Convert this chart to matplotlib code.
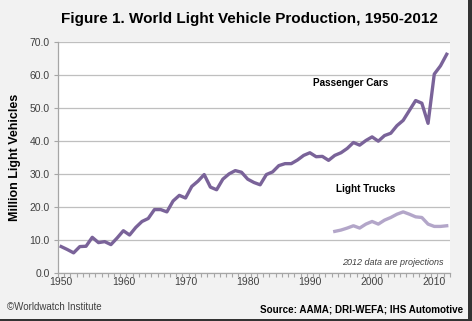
import numpy as np
import matplotlib
matplotlib.use("Agg")
import matplotlib.pyplot as plt
from matplotlib.patches import Rectangle
from matplotlib.ticker import MultipleLocator, FixedLocator, FormatStrFormatter

plt.rcParams['font.family'] = ['Liberation Sans', 'DejaVu Sans']

# million units per year
car_years = list(range(1950, 2013))
passenger_cars = [8.0, 7.1, 6.1, 8.0, 8.1, 10.8, 9.2, 9.5, 8.6, 10.6,
                  12.8, 11.5, 13.8, 15.6, 16.5, 19.2, 19.2, 18.5, 21.8, 23.5,
                  22.7, 26.2, 27.8, 29.8, 26.0, 25.2, 28.4, 30.0, 31.0, 30.5,
                  28.4, 27.4, 26.7, 29.8, 30.6, 32.5, 33.1, 33.1, 34.2, 35.6,
                  36.4, 35.2, 35.3, 34.1, 35.6, 36.4, 37.7, 39.5, 38.7, 40.1,
                  41.2, 39.9, 41.6, 42.3, 44.6, 46.2, 49.2, 52.2, 51.4, 45.3,
                  60.2, 62.7, 66.2]
truck_years = list(range(1994, 2013))
light_trucks = [12.6, 13.0, 13.6, 14.3, 13.6, 14.8, 15.6, 14.8, 16.0, 16.8,
                17.8, 18.5, 17.8, 17.0, 16.8, 14.8, 14.1, 14.1, 14.3]

fig = plt.figure(figsize=(4.72, 3.21), dpi=100, facecolor='#f2f2f2')
ax = fig.add_axes([0.123, 0.1495, 0.830, 0.7205])
ax.set_facecolor('white')

ax.plot(car_years, passenger_cars, color='#7a6399', lw=2.4, solid_joinstyle='round')
ax.plot(truck_years, light_trucks, color='#b3a6c9', lw=2.4, solid_joinstyle='round')

ax.set_xlim(1949.5, 2012.5)
ax.set_ylim(0, 70)
ax.yaxis.set_major_locator(MultipleLocator(10))
ax.yaxis.set_major_formatter(FormatStrFormatter('%.1f'))
ax.xaxis.set_major_locator(FixedLocator(range(1950, 2011, 10)))
ax.xaxis.set_minor_locator(FixedLocator(np.arange(1949.5, 2013, 1)))
ax.grid(axis='y', color='#bfbfbf', lw=0.9)
ax.set_axisbelow(True)

for s in ['top', 'right']:
    ax.spines[s].set_visible(False)
for s in ['left', 'bottom']:
    ax.spines[s].set_color('#a6a6a6')
    ax.spines[s].set_linewidth(0.9)
ax.tick_params(axis='x', which='major', length=0, labelsize=7.5, pad=3)
ax.tick_params(axis='x', which='minor', length=3, color='#a6a6a6', width=0.8)
ax.tick_params(axis='y', length=3, color='#a6a6a6', labelsize=7.5, pad=3)
for lab in ax.get_xticklabels() + ax.get_yticklabels():
    lab.set_color('#404040')

ax.set_ylabel('Million Light Vehicles', fontsize=9, fontweight='bold', labelpad=6)

ax.text(1996.5, 57.5, 'Passenger Cars', fontsize=7.2, fontweight='bold', ha='center', va='center')
ax.text(1999.0, 25.3, 'Light Trucks', fontsize=7.2, fontweight='bold', ha='center', va='center')
ax.text(2011.5, 3.3, '2012 data are projections', fontsize=6.5, style='italic',
        ha='right', va='center', color='#404040')

fig.text(0.528, 0.940, 'Figure 1. World Light Vehicle Production, 1950-2012',
         fontsize=11, fontweight='bold', ha='center', va='center')
fig.text(0.015, 0.043, '\u00a9Worldwatch Institute', fontsize=7, ha='left', va='center',
         color='#404040')
fig.text(0.981, 0.037, 'Source: AAMA; DRI-WEFA; IHS Automotive', fontsize=7.1,
         fontweight='bold', ha='right', va='center')

# dark frame edge on the right and bottom
fig.patches.append(Rectangle((0.9915, 0), 0.0085, 1, transform=fig.transFigure,
                             color='#333333', lw=0))
fig.patches.append(Rectangle((0, 0), 1, 0.007, transform=fig.transFigure,
                             color='#333333', lw=0))

fig.savefig('out.png', dpi=100, facecolor=fig.get_facecolor())
